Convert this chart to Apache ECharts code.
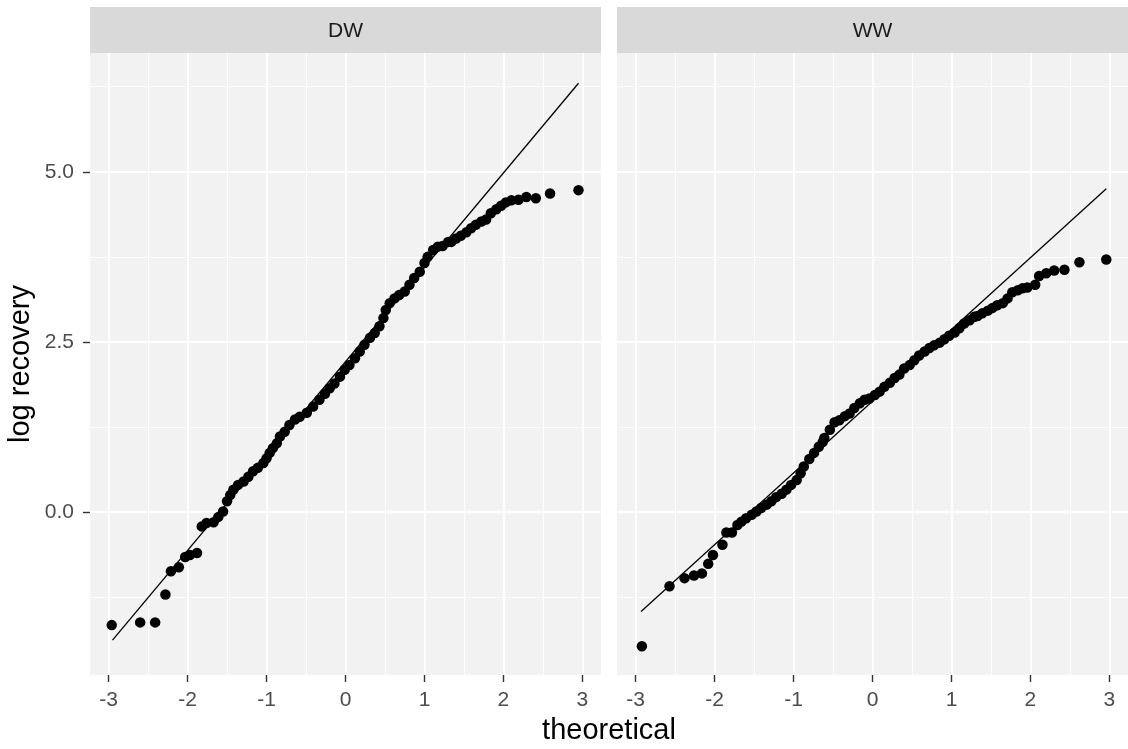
<!DOCTYPE html>
<html>
<head>
<meta charset="utf-8">
<script src="https://cdn.jsdelivr.net/npm/echarts@6/dist/echarts.min.js"></script>
<style>
  html, body { margin: 0; padding: 0; background: #ffffff; }
  #chart { width: 1128px; height: 749px; }
</style>
</head>
<body>
<div id="chart"></div>
<script>
// Facet labels
const panels = ['DW', 'WW'];

// Sample quantiles against theoretical normal quantiles: [theoretical, log recovery]
const dwPoints = [
  [-2.96, -1.66], [-2.60, -1.62], [-2.41, -1.62], [-2.28, -1.21], [-2.21, -0.87],
  [-2.11, -0.81], [-2.03, -0.66], [-1.97, -0.63], [-1.88, -0.60], [-1.82, -0.21],
  [-1.76, -0.16], [-1.67, -0.15], [-1.61, -0.07], [-1.55, 0.01], [-1.50, 0.16],
  [-1.46, 0.25], [-1.42, 0.33], [-1.36, 0.40], [-1.29, 0.45], [-1.23, 0.52],
  [-1.17, 0.60], [-1.11, 0.65], [-1.04, 0.72], [-1.00, 0.79], [-0.96, 0.87],
  [-0.92, 0.94], [-0.87, 1.01], [-0.83, 1.11], [-0.77, 1.18], [-0.71, 1.28],
  [-0.64, 1.36], [-0.58, 1.40], [-0.49, 1.46], [-0.41, 1.55], [-0.33, 1.65],
  [-0.26, 1.74], [-0.20, 1.82], [-0.14, 1.89], [-0.07, 1.99], [-0.01, 2.09],
  [0.05, 2.16], [0.12, 2.26], [0.18, 2.36], [0.24, 2.46], [0.31, 2.56],
  [0.37, 2.63], [0.43, 2.73], [0.48, 2.85], [0.51, 2.97], [0.56, 3.07],
  [0.62, 3.14], [0.68, 3.19], [0.75, 3.24], [0.81, 3.34], [0.87, 3.44],
  [0.94, 3.53], [1.00, 3.66], [1.04, 3.75], [1.11, 3.85], [1.17, 3.90],
  [1.23, 3.91], [1.30, 3.97], [1.34, 3.97], [1.40, 4.02], [1.46, 4.06],
  [1.53, 4.11], [1.59, 4.17], [1.65, 4.22], [1.72, 4.27], [1.78, 4.30],
  [1.84, 4.39], [1.91, 4.45], [1.97, 4.50], [2.03, 4.55], [2.10, 4.58],
  [2.19, 4.59], [2.29, 4.63], [2.41, 4.61], [2.59, 4.68], [2.95, 4.73]
];
const wwPoints = [
  [-2.92, -1.97], [-2.57, -1.09], [-2.38, -0.97], [-2.26, -0.93], [-2.16, -0.90],
  [-2.08, -0.76], [-2.02, -0.63], [-1.90, -0.48], [-1.85, -0.30], [-1.78, -0.30],
  [-1.71, -0.19], [-1.66, -0.14], [-1.60, -0.09], [-1.53, -0.04], [-1.47, 0.01],
  [-1.41, 0.06], [-1.34, 0.11], [-1.28, 0.16], [-1.22, 0.22], [-1.15, 0.27],
  [-1.09, 0.33], [-1.03, 0.40], [-0.96, 0.47], [-0.91, 0.57], [-0.87, 0.67],
  [-0.80, 0.78], [-0.74, 0.87], [-0.68, 0.96], [-0.63, 1.03], [-0.61, 1.09],
  [-0.54, 1.21], [-0.48, 1.32], [-0.42, 1.35], [-0.35, 1.41], [-0.29, 1.45],
  [-0.23, 1.53], [-0.16, 1.60], [-0.10, 1.65], [-0.04, 1.67], [0.03, 1.72],
  [0.09, 1.77], [0.15, 1.84], [0.22, 1.90], [0.28, 1.97], [0.34, 2.02],
  [0.40, 2.11], [0.47, 2.16], [0.53, 2.23], [0.59, 2.30], [0.66, 2.36],
  [0.72, 2.41], [0.78, 2.45], [0.85, 2.49], [0.91, 2.54], [0.97, 2.59],
  [1.04, 2.64], [1.10, 2.70], [1.16, 2.77], [1.23, 2.82], [1.29, 2.87],
  [1.33, 2.88], [1.39, 2.92], [1.46, 2.96], [1.52, 3.00], [1.58, 3.04],
  [1.65, 3.07], [1.71, 3.14], [1.77, 3.23], [1.84, 3.26], [1.90, 3.29],
  [1.96, 3.30], [2.06, 3.34], [2.11, 3.47], [2.20, 3.51], [2.30, 3.55],
  [2.43, 3.56], [2.62, 3.67], [2.96, 3.71]
];

// Reference lines through the quartiles (end points)
const dwLine = [[-2.95, -1.88], [2.95, 6.30]];
const wwLine = [[-2.93, -1.46], [2.96, 4.75]];

// Breaks
const xMajor = [-3, -2, -1, 0, 1, 2, 3];
const xMinor = [-2.5, -1.5, -0.5, 0.5, 1.5, 2.5];
const yMajor = [0, 2.5, 5];
const yMinor = [-1.25, 1.25, 3.75, 6.25];
const xRange = [-3.235, 3.235];
const yRange = [-2.393, 6.745];

const FONT = 'Liberation Sans, Arial, sans-serif';
const panelGrids = [
  { left: 90, top: 53, width: 511, height: 622 },
  { left: 617, top: 53, width: 511, height: 622 }
];

const grid = panelGrids.map(g => Object.assign({
  show: true, backgroundColor: '#F2F2F2', borderWidth: 0, containLabel: false
}, g));

const xAxis = [];
const yAxis = [];
panelGrids.forEach((g, i) => {
  // major x
  xAxis.push({
    gridIndex: i, type: 'value', min: xRange[0], max: xRange[1], position: 'bottom',
    axisLine: { show: false, onZero: false },
    axisTick: { show: true, customValues: xMajor, length: 7, lineStyle: { color: '#333333', width: 1.4 } },
    axisLabel: { show: true, customValues: xMajor, margin: 15, color: '#4D4D4D', fontSize: 21, fontFamily: FONT },
    splitLine: { show: true, lineStyle: { color: '#FFFFFF', width: 1.8 } }
  });
  // minor x
  xAxis.push({
    gridIndex: i, type: 'value', min: xRange[0], max: xRange[1], position: 'top',
    axisLine: { show: false, onZero: false },
    axisTick: { show: false, customValues: xMinor },
    axisLabel: { show: false },
    splitLine: { show: true, lineStyle: { color: '#FFFFFF', width: 0.9 } }
  });
  // major y
  yAxis.push({
    gridIndex: i, type: 'value', min: yRange[0], max: yRange[1], position: 'left',
    axisLine: { show: false, onZero: false },
    axisTick: { show: i === 0, customValues: yMajor, length: 7, lineStyle: { color: '#333333', width: 1.4 } },
    axisLabel: {
      show: i === 0, customValues: yMajor, margin: 16, color: '#4D4D4D', fontSize: 21, fontFamily: FONT,
      formatter: v => Number(v).toFixed(1)
    },
    splitLine: { show: true, lineStyle: { color: '#FFFFFF', width: 1.8 } },
    name: i === 0 ? 'log recovery' : '',
    nameLocation: 'middle', nameGap: 55,
    nameTextStyle: { fontSize: 29, color: '#000000', fontFamily: FONT }
  });
  // minor y
  yAxis.push({
    gridIndex: i, type: 'value', min: yRange[0], max: yRange[1], position: 'right',
    axisLine: { show: false, onZero: false },
    axisTick: { show: false, customValues: yMinor },
    axisLabel: { show: false },
    splitLine: { show: true, lineStyle: { color: '#FFFFFF', width: 0.9 } }
  });
});

const pointSets = [dwPoints, wwPoints];
const lineSets = [dwLine, wwLine];
const series = [];
panels.forEach((name, i) => {
  series.push({
    name: name, type: 'scatter', xAxisIndex: i * 2, yAxisIndex: i * 2,
    data: pointSets[i], symbol: 'circle', symbolSize: 10.5,
    itemStyle: { color: '#000000', opacity: 1 }, z: 3
  });
  series.push({
    name: name + ' line', type: 'line', xAxisIndex: i * 2, yAxisIndex: i * 2,
    data: lineSets[i], symbol: 'none', showSymbol: false,
    lineStyle: { color: '#000000', width: 1.3 }, z: 4
  });
});

const graphic = [];
panelGrids.forEach((g, i) => {
  graphic.push({
    type: 'rect', shape: { x: g.left, y: 7, width: g.width, height: 46 },
    style: { fill: '#D9D9D9' }, silent: true
  });
  graphic.push({
    type: 'text', x: g.left + g.width / 2, y: 31,
    style: { text: panels[i], align: 'center', verticalAlign: 'middle', fontSize: 21, fill: '#1A1A1A', fontFamily: FONT },
    silent: true
  });
});
graphic.push({
  type: 'text', x: 609, y: 731,
  style: { text: 'theoretical', align: 'center', verticalAlign: 'middle', fontSize: 29, fill: '#000000', fontFamily: FONT },
  silent: true
});

const chart = echarts.init(document.getElementById('chart'), null, { renderer: 'canvas' });
chart.setOption({
  animation: false,
  backgroundColor: '#FFFFFF',
  grid: grid,
  xAxis: xAxis,
  yAxis: yAxis,
  series: series,
  graphic: graphic
});
</script>
</body>
</html>
